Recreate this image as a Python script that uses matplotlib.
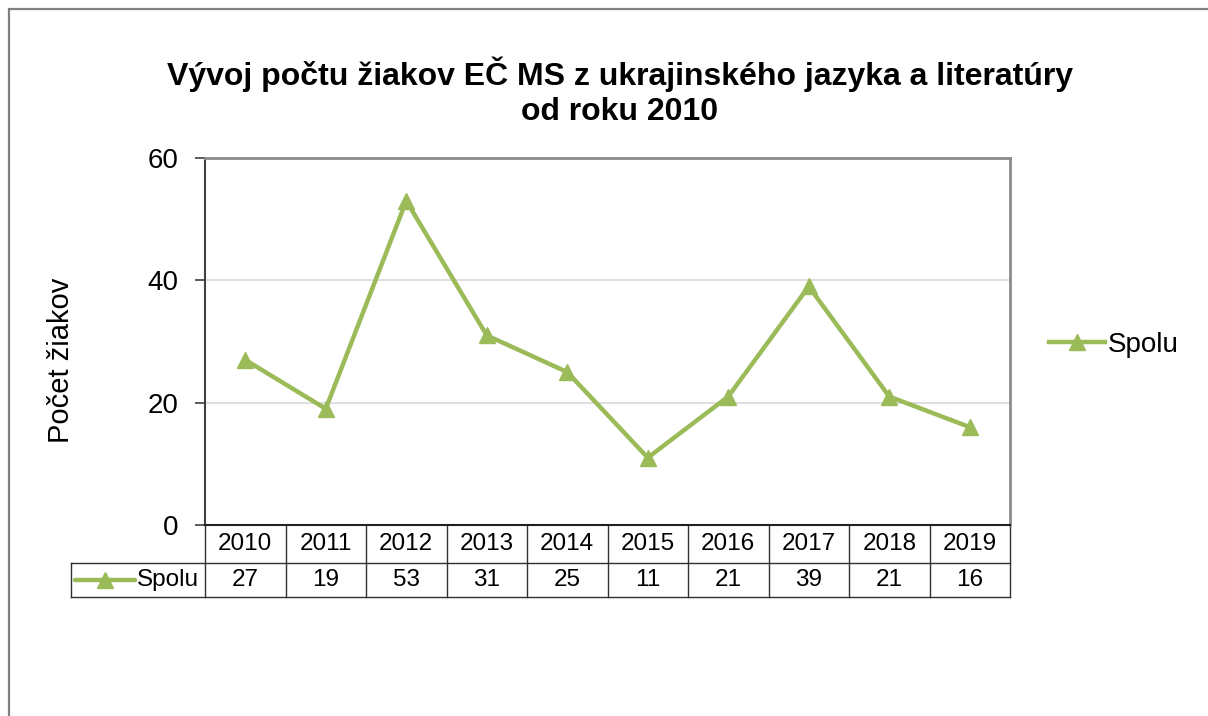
import matplotlib
matplotlib.use("Agg")
import matplotlib.pyplot as plt
import matplotlib.transforms as mtransforms
from matplotlib.patches import Rectangle

plt.rcParams["font.family"] = ["Liberation Sans", "DejaVu Sans"]

years = ["2010", "2011", "2012", "2013", "2014", "2015", "2016", "2017", "2018", "2019"]
spolu = [27, 19, 53, 31, 25, 11, 21, 39, 21, 16]
series_name = "Spolu"
title = "Vývoj počtu žiakov EČ MS z ukrajinského jazyka a literatúry\nod roku 2010"
ylabel = "Počet žiakov"
GREEN = "#9BBB59"

W, H = 1208, 716
fig = plt.figure(figsize=(W / 100, H / 100), dpi=100)
# outer chart frame (right/bottom run off the image)
fig.patches.append(Rectangle((9 / W, -0.05), 1.1, 1 - 9 / H + 0.05, transform=fig.transFigure,
                             fill=False, edgecolor="#808080", lw=1.6))

ax = fig.add_axes([205 / W, 1 - 525 / H, 805 / W, 367 / H])
x = list(range(len(years)))
ax.plot(x, spolu, color=GREEN, lw=3.2, marker="^", ms=12, mec=GREEN, mfc=GREEN, label=series_name)
ax.set_xlim(-0.5, len(years) - 0.5)
ax.set_ylim(0, 60)
ax.set_yticks([0, 20, 40, 60])
ax.tick_params(axis="y", labelsize=20, length=7, width=1.2, color="#404040", pad=12)
ax.set_xticks([])
ax.grid(axis="y", color="#d9d9d9", lw=1.2)
ax.set_axisbelow(True)
for s in ("top", "right"):
    ax.spines[s].set_color("#8c8c8c"); ax.spines[s].set_linewidth(2)
ax.spines["left"].set_color("#404040"); ax.spines["left"].set_linewidth(1.5)
ax.spines["bottom"].set_color("#202020"); ax.spines["bottom"].set_linewidth(1.5)
ax.set_ylabel(ylabel, fontsize=21)
ax.yaxis.set_label_coords(-0.162, 0.45)

# data table under the plot: x in data units, y in axes units
tr = mtransforms.blended_transform_factory(ax.transData, ax.transAxes)
h1, h2 = 38 / 367, 34 / 367          # header row, value row
y_mid, y_bot = -h1, -h1 - h2
lab_left = -0.5 - 134 / 80.5          # row-label column width in category units
kw = dict(transform=tr, clip_on=False, color="#303030", lw=1.0)
xr = -0.5 + len(years)
ax.plot([lab_left, xr], [y_mid, y_mid], **kw)
ax.plot([lab_left, xr], [y_bot, y_bot], **kw)
ax.plot([lab_left, lab_left], [y_mid, y_bot], **kw)
for i in range(len(years) + 1):
    ax.plot([i - 0.5, i - 0.5], [0, y_bot], **kw)
for i, (yr, v) in enumerate(zip(years, spolu)):
    ax.text(i, -h1 / 2, yr, transform=tr, ha="center", va="center", fontsize=17.5)
    ax.text(i, y_mid - h2 / 2, str(v), transform=tr, ha="center", va="center", fontsize=17.5)
ax.text(-0.5 - 0.07, y_mid - h2 / 2, series_name, transform=tr, ha="right", va="center", fontsize=17.5)
ax.plot([lab_left + 0.05, lab_left + 0.8], [y_mid - h2 / 2] * 2, transform=tr, clip_on=False,
        color=GREEN, lw=3.2, solid_capstyle="round")
ax.plot([lab_left + 0.425], [y_mid - h2 / 2], transform=tr, clip_on=False,
        marker="^", ms=11, color=GREEN)

leg = ax.legend(loc="center left", bbox_to_anchor=(1.035, 0.49), frameon=False, fontsize=20,
                handlelength=2.0, handletextpad=0.1, borderaxespad=0)

fig.text(0.513, 1 - 92 / H, title, ha="center", va="center", fontsize=23, fontweight="bold",
         linespacing=1.2)

fig.savefig("out.png", dpi=100)
